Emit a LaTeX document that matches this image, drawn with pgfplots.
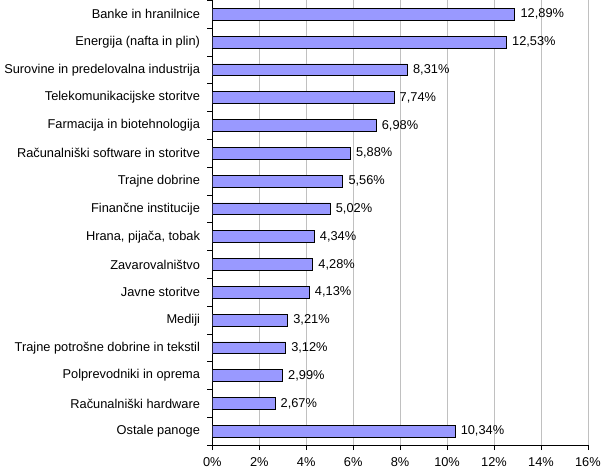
\documentclass[border=0pt]{standalone}
\usepackage{pgfplots}
\pgfplotsset{compat=1.18}
\usepackage{fontspec}
\setmainfont{Liberation Sans}
\definecolor{barfill}{HTML}{9999FF}
\definecolor{gridgrey}{HTML}{C0C0C0}

\begin{document}
\begin{tikzpicture}
\fontsize{13}{15}\selectfont
\begin{axis}[
  scale only axis,
  width=380bp, height=450bp,
  xbar, bar width=12bp,
  xmin=0, xmax=16,
  ymin=-0.5, ymax=15.5,
  xtick={0,2,...,16},
  xticklabels={0\%,2\%,4\%,6\%,8\%,10\%,12\%,14\%,16\%},
  ytick={0,...,15},
  yticklabels={Ostale panoge, Računalniški hardware, Polprevodniki in oprema,
    Trajne potrošne dobrine in tekstil, Mediji, Javne storitve, Zavarovalništvo,
    {Hrana, pijača, tobak}, Finančne institucije, Trajne dobrine,
    Računalniški software in storitve, Farmacija in biotehnologija,
    Telekomunikacijske storitve, Surovine in predelovalna industrija,
    Energija (nafta in plin), Banke in hranilnice},
  minor ytick={-0.5,0.5,...,15.5},
  major y tick style={draw=none},
  minor y tick style={black, line width=0.6pt},
  minor tick length=5bp,
  major x tick style={black, line width=0.6pt},
  major tick length=5bp,
  tick align=outside,
  axis x line*=bottom, axis y line*=left,
  axis line style={black, line width=0.8pt, -},
  xmajorgrids, major grid style={gridgrey, line width=0.6pt},
  tick label style={font=\fontsize{13}{15}\selectfont},
  yticklabel style={xshift=-3bp},
  xticklabel style={yshift=-3bp},
  /pgf/number format/assume math mode=true,
  point meta=x,
  nodes near coords={\pgfmathprintnumber[fixed,fixed zerofill,precision=2,use comma,assume math mode=true]{\pgfplotspointmeta}\%},
  nodes near coords style={font=\fontsize{13}{15}\selectfont, anchor=west, xshift=1bp},
]
\addplot[fill=barfill, draw=black, line width=0.9pt] coordinates {
  (10.34,0) (2.67,1) (2.99,2) (3.12,3) (3.21,4) (4.13,5) (4.28,6) (4.34,7)
  (5.02,8) (5.56,9) (5.88,10) (6.98,11) (7.74,12) (8.31,13) (12.53,14) (12.89,15)
};
\end{axis}
\end{tikzpicture}
\end{document}
